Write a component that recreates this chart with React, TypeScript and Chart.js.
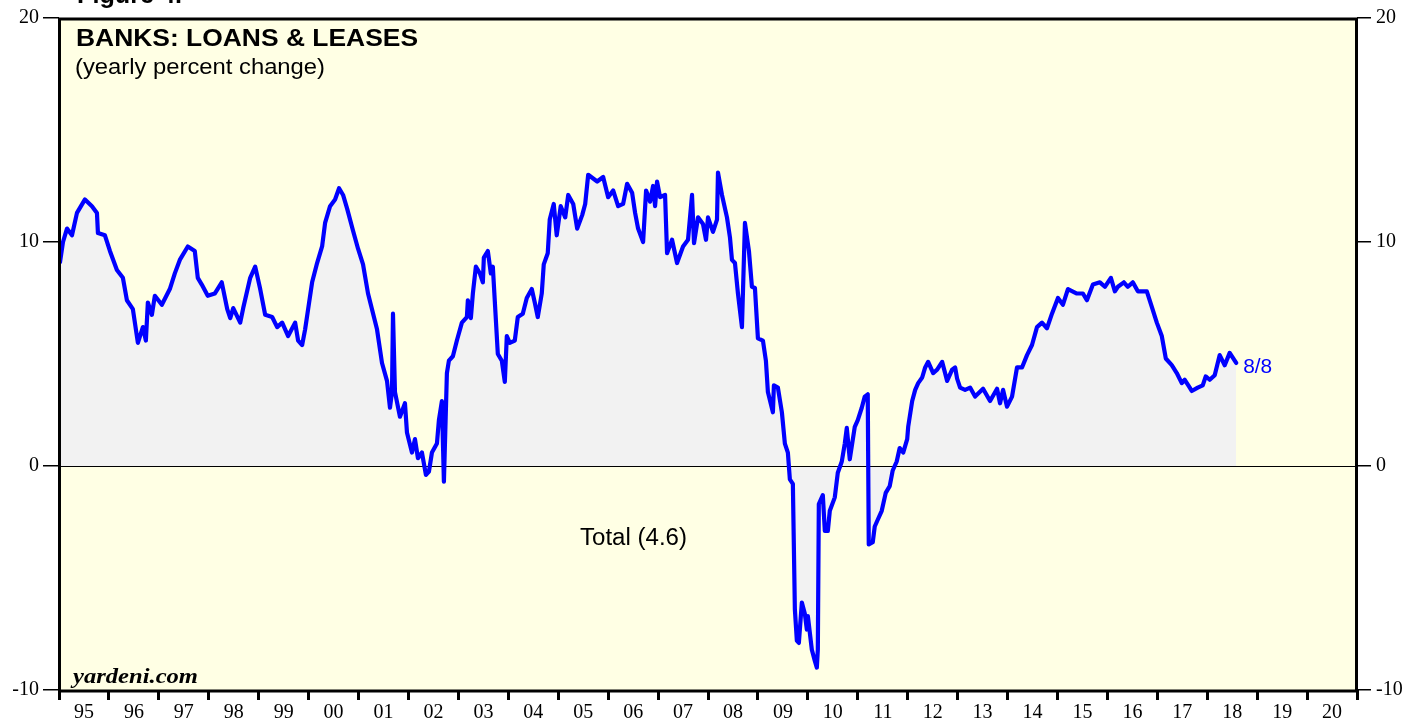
import React, { useEffect, useRef } from 'react';
import { Chart, registerables } from 'chart.js';

Chart.register(...registerables);

// Decimal years (weekly series)
const dates: number[] = [
  1995.02, 1995.08, 1995.16, 1995.26, 1995.36, 1995.52, 1995.66, 1995.76, 1995.78, 1995.92,
  1996.02, 1996.16, 1996.28, 1996.36, 1996.48, 1996.58, 1996.68, 1996.74, 1996.78, 1996.86, 1996.92,
  1997.06, 1997.22, 1997.32, 1997.42, 1997.58, 1997.72, 1997.78, 1997.86, 1997.98,
  1998.12, 1998.26, 1998.37, 1998.43, 1998.49, 1998.63, 1998.69, 1998.83, 1998.93,
  1999.03, 1999.13, 1999.27, 1999.37, 1999.47, 1999.59, 1999.73, 1999.79, 1999.87, 1999.93, 1999.99,
  2000.07, 2000.17, 2000.27, 2000.33, 2000.43, 2000.53, 2000.61, 2000.69, 2000.77, 2000.89, 2000.99,
  2001.09, 2001.19, 2001.37, 2001.47, 2001.57, 2001.63, 2001.67, 2001.69, 2001.73, 2001.83, 2001.93, 2001.97,
  2002.07, 2002.13, 2002.19, 2002.27, 2002.35, 2002.41, 2002.47, 2002.57, 2002.61, 2002.67, 2002.71, 2002.77, 2002.81, 2002.89, 2002.97,
  2003.07, 2003.17, 2003.19, 2003.25, 2003.29, 2003.35, 2003.43, 2003.49, 2003.51, 2003.59, 2003.65, 2003.69, 2003.79, 2003.87, 2003.93, 2003.97,
  2004.03, 2004.13, 2004.19, 2004.29, 2004.37, 2004.47, 2004.53, 2004.59, 2004.67, 2004.71, 2004.79, 2004.83, 2004.91, 2004.97,
  2005.05, 2005.14, 2005.20, 2005.30, 2005.38, 2005.48, 2005.54, 2005.60, 2005.78, 2005.90,
  2006.00, 2006.10, 2006.20, 2006.30, 2006.38, 2006.48, 2006.54, 2006.60, 2006.70, 2006.76, 2006.84, 2006.90, 2006.94, 2006.98,
  2007.04, 2007.14, 2007.18, 2007.28, 2007.38, 2007.50, 2007.60, 2007.68, 2007.72, 2007.80, 2007.90, 2007.96,
  2008.00, 2008.10, 2008.18, 2008.20, 2008.28, 2008.38, 2008.44, 2008.48, 2008.54, 2008.60, 2008.68, 2008.74, 2008.82, 2008.88, 2008.94,
  2009.00, 2009.10, 2009.16, 2009.20, 2009.30, 2009.32, 2009.40, 2009.48, 2009.54, 2009.60, 2009.64, 2009.70, 2009.74, 2009.78, 2009.82, 2009.88, 2009.94, 2009.98,
  2010.00, 2010.08, 2010.14, 2010.18, 2010.20, 2010.22, 2010.30, 2010.34, 2010.40, 2010.44, 2010.54, 2010.60, 2010.68, 2010.74, 2010.78, 2010.84, 2010.94,
  2011.00, 2011.08, 2011.14, 2011.20, 2011.22, 2011.30, 2011.34, 2011.40, 2011.48, 2011.56, 2011.64, 2011.70, 2011.78, 2011.84, 2011.91, 2011.99,
  2012.01, 2012.09, 2012.15, 2012.21, 2012.29, 2012.35, 2012.41, 2012.51, 2012.59, 2012.69, 2012.79, 2012.89, 2012.95, 2012.99,
  2013.05, 2013.15, 2013.25, 2013.35, 2013.51, 2013.65, 2013.79, 2013.85, 2013.91, 2013.99,
  2014.09, 2014.19, 2014.29, 2014.39, 2014.49, 2014.59, 2014.69, 2014.79, 2014.89,
  2015.01, 2015.11, 2015.21, 2015.39, 2015.51, 2015.59, 2015.71, 2015.85, 2015.95,
  2016.07, 2016.15, 2016.21, 2016.33, 2016.41, 2016.51, 2016.61, 2016.79, 2016.89, 2016.99,
  2017.09, 2017.17, 2017.29, 2017.39, 2017.49, 2017.55, 2017.65, 2017.69, 2017.81, 2017.91, 2017.97,
  2018.05, 2018.15, 2018.25, 2018.35, 2018.45, 2018.58,
];

// Banks: loans & leases, yearly percent change
const loanGrowth: number[] = [
  9.1, 10.0, 10.6, 10.3, 11.3, 11.9, 11.6, 11.3, 10.4, 10.3,
  9.6, 8.75, 8.4, 7.4, 7.0, 5.5, 6.2, 5.6, 7.3, 6.75, 7.6,
  7.2, 7.9, 8.6, 9.2, 9.8, 9.6, 8.4, 8.1, 7.6,
  7.7, 8.2, 7.0, 6.6, 7.05, 6.4, 7.05, 8.4, 8.9,
  7.9, 6.75, 6.65, 6.2, 6.4, 5.8, 6.4, 5.6, 5.4, 6.1, 7.0,
  8.2, 9.06, 9.8, 10.85, 11.6, 11.9, 12.4, 12.1, 11.5, 10.5, 9.7,
  9.0, 7.7, 6.1, 4.6, 3.8, 2.6, 3.3, 6.8, 3.3, 2.2, 2.8, 1.5,
  0.6, 1.2, 0.35, 0.6, -0.4, -0.25, 0.6, 1.0, 2.05, 2.9, -0.7, 4.15, 4.7, 4.9, 5.6,
  6.4, 6.65, 7.4, 6.6, 7.7, 8.9, 8.6, 8.2, 9.3, 9.6, 8.6, 8.9, 5.0, 4.7, 3.75, 5.8,
  5.5, 5.6, 6.65, 6.8, 7.5, 7.9, 7.3, 6.65, 7.7, 9.0, 9.5, 11.0, 11.7, 10.3,
  11.6, 11.1, 12.1, 11.7, 10.6, 11.2, 11.7, 13.0, 12.7, 12.9,
  12.0, 12.3, 11.6, 11.7, 12.6, 12.2, 11.3, 10.6, 10.0, 12.3, 11.8, 12.5, 11.6, 12.7,
  12.0, 12.1, 9.5, 10.1, 9.06, 9.8, 10.1, 12.1, 9.95, 11.1, 10.8, 10.1,
  11.1, 10.45, 11.0, 13.1, 12.1, 11.1, 10.2, 9.2, 9.06, 7.7, 6.2, 10.85, 9.6, 8.0, 7.95,
  5.7, 5.6, 4.7, 3.3, 2.4, 3.6, 3.5, 2.4, 1.0, 0.6, -0.6, -0.8, -6.4, -7.8, -7.9, -6.1, -6.6, -7.3,
  -6.7, -8.2, -8.7, -9.0, -8.2, -1.7, -1.3, -2.9, -2.9, -2.0, -1.4, -0.3, 0.2, 1.0, 1.7, 0.3, 1.75,
  2.05, 2.6, 3.1, 3.2, -3.5, -3.4, -2.7, -2.4, -2.0, -1.2, -0.9, -0.2, 0.2, 0.8, 0.6, 1.2,
  1.75, 2.9, 3.4, 3.7, 3.95, 4.4, 4.65, 4.15, 4.3, 4.65, 3.8, 4.3, 4.4, 3.9,
  3.5, 3.4, 3.5, 3.1, 3.45, 2.9, 3.45, 2.8, 3.4, 2.65,
  3.1, 4.4, 4.4, 4.95, 5.4, 6.2, 6.4, 6.15, 6.8,
  7.5, 7.2, 7.9, 7.7, 7.7, 7.4, 8.1, 8.2, 8.0,
  8.4, 7.8, 8.0, 8.2, 8.0, 8.2, 7.8, 7.8, 7.1, 6.4,
  5.8, 4.8, 4.5, 4.15, 3.7, 3.85, 3.5, 3.35, 3.5, 3.6, 4.0,
  3.85, 4.05, 4.95, 4.5, 5.05, 4.6,
];

const yTickValues: number[] = [-10, 0, 10, 20];
const xTickYears: number[] = [
  1995, 1996, 1997, 1998, 1999, 2000, 2001, 2002, 2003, 2004, 2005, 2006, 2007,
  2008, 2009, 2010, 2011, 2012, 2013, 2014, 2015, 2016, 2017, 2018, 2019, 2020, 2021,
];
const xTickLabels: string[] = [
  '95', '96', '97', '98', '99', '00', '01', '02', '03', '04', '05', '06', '07',
  '08', '09', '10', '11', '12', '13', '14', '15', '16', '17', '18', '19', '20', '',
];

const figureText = 'Figure 4.';
const titleText = 'BANKS: LOANS & LEASES';
const subtitleText = '(yearly percent change)';
const seriesLabel = 'Total (4.6)';
const lastDateLabel = '8/8';
const sourceText = 'yardeni.com';

function drawFitted(
  ctx: CanvasRenderingContext2D,
  text: string,
  x: number,
  baseline: number,
  font: string,
  color: string,
  width?: number
) {
  ctx.save();
  ctx.font = font;
  ctx.fillStyle = color;
  ctx.textAlign = 'left';
  ctx.textBaseline = 'alphabetic';
  const w = ctx.measureText(text).width;
  const sx = width ? width / w : 1;
  ctx.translate(x, baseline);
  ctx.scale(sx, 1);
  ctx.fillText(text, 0, 0);
  ctx.restore();
}

const decorPlugin = {
  id: 'decor',
  beforeDraw(chart: any) {
    const { ctx, chartArea } = chart;
    ctx.save();
    ctx.fillStyle = '#ffffe4';
    ctx.fillRect(chartArea.left, chartArea.top, chartArea.right - chartArea.left, chartArea.bottom - chartArea.top);
    ctx.restore();
  },
  beforeDatasetsDraw(chart: any) {
    const { ctx, chartArea, scales } = chart;
    const y0 = Math.round(scales.y.getPixelForValue(0)) + 0.5;
    ctx.save();
    ctx.strokeStyle = '#000';
    ctx.lineWidth = 1.2;
    ctx.beginPath();
    ctx.moveTo(chartArea.left, y0);
    ctx.lineTo(chartArea.right, y0);
    ctx.stroke();
    ctx.restore();
  },
  afterDraw(chart: any) {
    const { ctx, chartArea, scales } = chart;
    ctx.save();
    ctx.strokeStyle = '#000';
    ctx.lineWidth = 3;
    ctx.strokeRect(chartArea.left + 0.5, chartArea.top + 1, chartArea.right - chartArea.left - 1, chartArea.bottom - chartArea.top);
    ctx.restore();

    const sans = '"Liberation Sans", Arial, Helvetica, sans-serif';
    drawFitted(ctx, figureText, 77, 3, `bold 25px ${sans}`, '#000', 105);
    drawFitted(ctx, titleText, 76, 46, `bold 24px ${sans}`, '#000', 342);
    drawFitted(ctx, subtitleText, 75, 74, `22px ${sans}`, '#000', 250);
    drawFitted(ctx, seriesLabel, 580, 545, `23px ${sans}`, '#000', 107);

    const lastX = scales.x.getPixelForValue(dates[dates.length - 1]);
    const lastY = scales.y.getPixelForValue(loanGrowth[loanGrowth.length - 1]);
    drawFitted(ctx, lastDateLabel, lastX + 7, lastY + 10, `20px ${sans}`, '#0000ff', 29);

    drawFitted(ctx, sourceText, 73, 683, `italic bold 20px "Liberation Serif", serif`, '#000', 125);
  },
};

export default function App() {
  const ref = useRef<HTMLCanvasElement>(null);

  useEffect(() => {
    document.body.style.margin = '0';
    const canvas = ref.current;
    if (!canvas) return;

    const serif = '"Liberation Serif", "Times New Roman", serif';
    const points = dates.map((d, i) => ({ x: d, y: loanGrowth[i] }));

    const yScaleBase = (position: 'left' | 'right', width: number, tickLength: number, padding: number) => ({
      type: 'linear' as const,
      position,
      min: -10,
      max: 20,
      afterBuildTicks: (s: any) => {
        s.ticks = yTickValues.map((v) => ({ value: v }));
      },
      afterFit: (s: any) => {
        s.width = width;
      },
      ticks: {
        color: '#000',
        padding,
        font: { family: serif, size: 20 },
        callback: (v: any) => String(v),
      },
      grid: {
        drawOnChartArea: false,
        drawTicks: true,
        tickLength,
        color: '#000',
        lineWidth: 1.5,
      },
      border: { display: false },
    });

    const chart = new Chart(canvas, {
      type: 'line',
      data: {
        datasets: [
          {
            label: 'Total',
            data: points,
            borderColor: '#0000ff',
            borderWidth: 4.2,
            pointRadius: 0,
            tension: 0,
            fill: 'origin',
            backgroundColor: '#f2f2f2',
            borderJoinStyle: 'round',
            borderCapStyle: 'round',
          },
        ],
      },
      options: {
        responsive: false,
        animation: false,
        parsing: false,
        normalized: true,
        layout: { padding: { top: 18, left: 0, right: 0, bottom: 0 } },
        plugins: {
          legend: { display: false },
          tooltip: { enabled: false },
          filler: { drawTime: 'beforeDatasetsDraw' },
        } as any,
        scales: {
          x: {
            type: 'linear',
            position: 'bottom',
            min: 1995,
            max: 2021,
            afterBuildTicks: (s: any) => {
              s.ticks = xTickYears.map((v) => ({ value: v }));
            },
            afterFit: (s: any) => {
              s.height = 29;
            },
            ticks: {
              autoSkip: false,
              maxRotation: 0,
              minRotation: 0,
              labelOffset: 25,
              padding: 2,
              color: '#000',
              font: { family: serif, size: 20, lineHeight: 1.1 },
              callback: (_v: any, i: number) => xTickLabels[i] ?? '',
            },
            grid: {
              drawOnChartArea: false,
              drawTicks: true,
              tickLength: 10,
              color: '#000',
              lineWidth: 3,
            },
            border: { display: false },
          },
          y: yScaleBase('left', 59, 16, 4),
          y2: yScaleBase('right', 51, 14, 5),
        } as any,
      },
      plugins: [decorPlugin],
    });

    return () => chart.destroy();
  }, []);

  return <canvas ref={ref} width={1408} height={719} style={{ display: 'block' }} />;
}
